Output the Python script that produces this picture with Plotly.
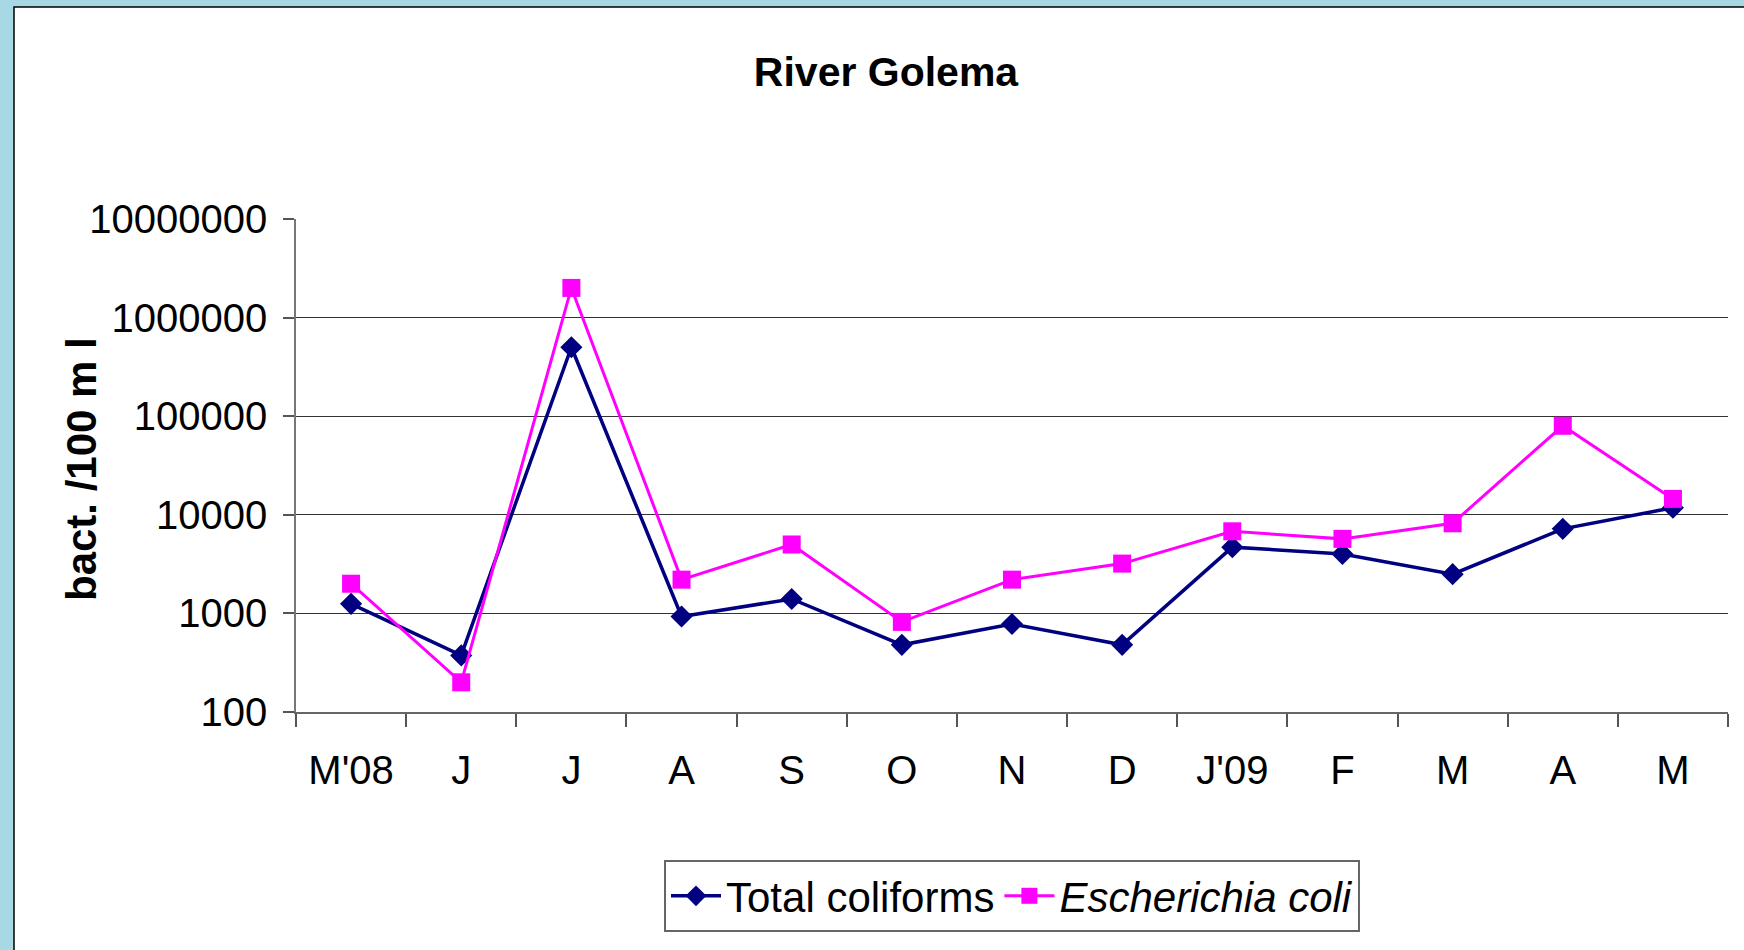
import plotly.graph_objs as go

# sampling months, May 2008 - May 2009
months = ["M'08", "J", "J ", "A", "S", "O", "N", "D", "J'09", "F", "M", "A ", "M "]
tick_labels = ["M'08", "J", "J", "A", "S", "O", "N", "D", "J'09", "F", "M", "A", "M"]

# bacteria per 100 ml
total_coliforms = [1250, 375, 500000, 930, 1400, 480, 780, 480, 4700, 4000, 2500, 7200, 11800]
e_coli = [2000, 200, 2000000, 2200, 5000, 820, 2200, 3200, 6800, 5700, 8200, 80000, 14500]

y_ticks = [100, 1000, 10000, 100000, 1000000, 10000000]

W, H = 1744, 950
L, R, T, B = 296, 1728, 219, 712  # plot area in pixels


def px_x(p):
    return (p - L) / (R - L)


def px_y(p):
    return (B - p) / (B - T)


FONT = "Liberation Sans, Arial, sans-serif"

fig = go.Figure()
fig.add_trace(go.Scatter(
    x=months, y=total_coliforms,
    mode='lines+markers',
    name='Total coliforms',
    line=dict(color='#000080', width=3.5),
    marker=dict(symbol='diamond', size=17, color='#000080'),
))
fig.add_trace(go.Scatter(
    x=months, y=e_coli,
    mode='lines+markers',
    name='<i>Escherichia coli</i>',
    line=dict(color='#FF00FF', width=3),
    marker=dict(symbol='square', size=18, color='#FF00FF'),
))

# white slide panel over the blue background
fig.add_shape(
    type='rect', xref='paper', yref='paper', layer='below',
    x0=px_x(14), x1=px_x(W + 20), y0=px_y(H + 20), y1=px_y(7),
    fillcolor='white', line=dict(color='black', width=1.5),
)

fig.add_annotation(
    text='bact. /100 m l', textangle=-90,
    xref='paper', yref='paper', x=px_x(81), y=px_y(469),
    showarrow=False, xanchor='center', yanchor='middle',
    font=dict(family=FONT, size=42, color='black', weight='bold'),
)

fig.update_layout(
    width=W, height=H,
    margin=dict(l=L, r=W - R, t=T, b=H - B),
    paper_bgcolor='#a6d9e4',
    plot_bgcolor='white',
    title=dict(
        text='<b>River Golema</b>',
        x=px_x(886), xref='paper', xanchor='center',
        y=1 - 72 / H, yref='container', yanchor='middle',
        font=dict(family=FONT, size=41, color='black'),
    ),
    font=dict(family=FONT, size=40, color='black'),
    showlegend=True,
    legend=dict(
        orientation='h',
        x=0.5, xanchor='center',
        y=px_y(860), yanchor='top',
        bordercolor='#666666', borderwidth=2,
        bgcolor='white',
        itemwidth=50,
        font=dict(family=FONT, size=42, color='black'),
    ),
    xaxis=dict(
        type='category',
        tickmode='array', tickvals=months, ticktext=tick_labels,
        range=[-0.5, 12.5],
        tickson='boundaries',
        ticks='outside', ticklen=13, tickcolor='#555555', tickwidth=1.5,
        showline=True, linecolor='#666666', linewidth=1.5,
        showgrid=False,
        ticklabelstandoff=22,
    ),
    yaxis=dict(
        type='log',
        range=[2, 7],
        tickmode='array', tickvals=y_ticks, ticktext=[str(v) for v in y_ticks],
        ticks='outside', ticklen=11, tickcolor='#555555', tickwidth=1.5,
        showline=True, linecolor='#777777', linewidth=1.5,
        showgrid=True, gridcolor='#333333', gridwidth=1,
        zeroline=False,
        ticklabelstandoff=8,
    ),
)

# drop the browser's default body margin so the figure sits at (0, 0)
fig.write_html("out.html", config={'displayModeBar': False},
               post_script="document.body.style.margin='0';")
